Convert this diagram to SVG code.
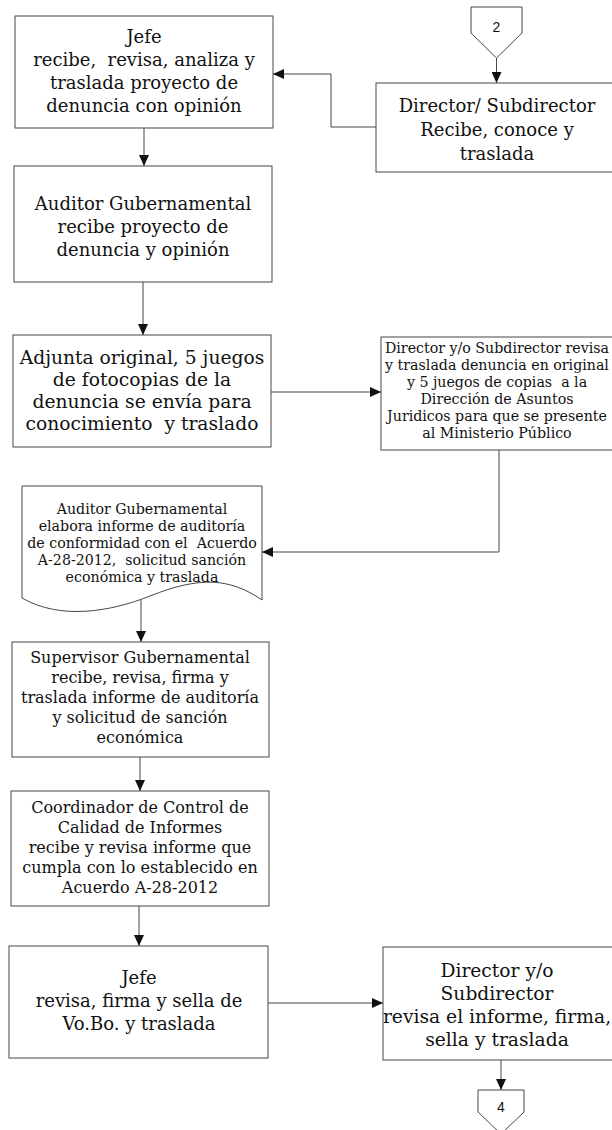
<svg xmlns="http://www.w3.org/2000/svg" width="612" height="1130" viewBox="0 0 612 1130">
  <style>
    .box { fill: #ffffff; stroke: #474747; stroke-width: 1; }
    .wire { fill: none; stroke: #474747; stroke-width: 1; }
    .t18 { font-family: "DejaVu Serif", "Liberation Serif", serif; font-size: 18px; fill: #111; text-anchor: middle; }
    .t19 { font-family: "DejaVu Serif", "Liberation Serif", serif; font-size: 18.7px; fill: #111; text-anchor: middle; }
    .t16 { font-family: "DejaVu Serif", "Liberation Serif", serif; font-size: 16px; fill: #111; text-anchor: middle; }
    .t14 { font-family: "DejaVu Serif", "Liberation Serif", serif; font-size: 14.2px; fill: #111; text-anchor: middle; }
    .conn { font-family: "Liberation Sans", Arial, sans-serif; font-size: 14px; fill: #111; text-anchor: middle; }
  </style>
  <defs>
    <marker id="arrow" markerUnits="userSpaceOnUse" markerWidth="11" markerHeight="10" refX="11" refY="5" orient="auto">
      <path d="M0,0 L11,5 L0,10 Z" fill="#111"/>
    </marker>
  </defs>
  <rect width="612" height="1130" fill="#ffffff"/>

  <!-- connectors -->
  <g id="connectors" class="wire" marker-end="url(#arrow)">
    <path d="M496.5,58 V83"/>
    <path d="M376,127 H331 V74 H273"/>
    <path d="M144,128 V166"/>
    <path d="M143,282 V335"/>
    <path d="M271,392 H381"/>
    <path d="M499,450 V552 H262"/>
    <path d="M141,600 V642"/>
    <path d="M140,757 V791"/>
    <path d="M139,906 V946"/>
    <path d="M268,1003 H383"/>
    <path d="M501,1060 V1090"/>
  </g>

  <!-- off-page connector 2 -->
  <g id="conn-2">
    <path class="box" d="M471,7 H522 V33 L496.5,58 L471,33 Z"/>
    <text class="conn" x="496.5" y="32">2</text>
  </g>

  <!-- Jefe receives the draft -->
  <g id="jefe-1">
    <rect class="box" x="15" y="16" width="258" height="112"/>
    <text class="t18" x="144" y="43">Jefe</text>
    <text class="t18" x="144" y="66" xml:space="preserve">recibe,  revisa, analiza y</text>
    <text class="t18" x="144" y="89">traslada proyecto de</text>
    <text class="t18" x="144" y="112">denuncia con opinión</text>
  </g>

  <!-- Director / Subdirector -->
  <g id="director-1">
    <rect class="box" x="376" y="83" width="240" height="89"/>
    <text class="t18" x="497" y="112">Director/ Subdirector</text>
    <text class="t18" x="497" y="136">Recibe, conoce y</text>
    <text class="t18" x="497" y="160">traslada</text>
  </g>

  <!-- Auditor receives draft -->
  <g id="auditor-1">
    <rect class="box" x="14" y="166" width="258" height="116"/>
    <text class="t18" x="143" y="210">Auditor Gubernamental</text>
    <text class="t18" x="143" y="233">recibe proyecto de</text>
    <text class="t18" x="143" y="256">denuncia y opinión</text>
  </g>

  <!-- Attach original and copies -->
  <g id="adjunta">
    <rect class="box" x="13" y="335" width="258" height="112"/>
    <text class="t19" x="142" y="364">Adjunta original, 5 juegos</text>
    <text class="t19" x="142" y="386">de fotocopias de la</text>
    <text class="t19" x="142" y="408">denuncia se envía para</text>
    <text class="t19" x="142" y="430" xml:space="preserve">conocimiento  y traslado</text>
  </g>

  <!-- Director forwards to legal affairs -->
  <g id="director-2">
    <rect class="box" x="381" y="337" width="235" height="113"/>
    <text class="t14" x="497" y="353">Director y/o Subdirector revisa</text>
    <text class="t14" x="497" y="370">y traslada denuncia en original</text>
    <text class="t14" x="497" y="387" xml:space="preserve">y 5 juegos de copias  a la</text>
    <text class="t14" x="497" y="404">Dirección de Asuntos</text>
    <text class="t14" x="497" y="421">Juridicos para que se presente</text>
    <text class="t14" x="497" y="438">al Ministerio Público</text>
  </g>

  <!-- Audit report document -->
  <g id="informe">
    <path class="box" d="M22,486 H262 V600 C230,578 200,576 150,596 C110,612 60,620 22,598 Z"/>
    <text class="t14" x="142" y="514">Auditor Gubernamental</text>
    <text class="t14" x="142" y="531">elabora informe de auditoría</text>
    <text class="t14" x="142" y="548" xml:space="preserve">de conformidad con el  Acuerdo</text>
    <text class="t14" x="142" y="565" xml:space="preserve">A-28-2012,  solicitud sanción</text>
    <text class="t14" x="142" y="582">económica y traslada</text>
  </g>

  <!-- Supervisor -->
  <g id="supervisor">
    <rect class="box" x="12" y="642" width="257" height="115"/>
    <text class="t16" x="140" y="663">Supervisor Gubernamental</text>
    <text class="t16" x="140" y="683">recibe, revisa, firma y</text>
    <text class="t16" x="140" y="703">traslada informe de auditoría</text>
    <text class="t16" x="140" y="723">y solicitud de sanción</text>
    <text class="t16" x="140" y="743">económica</text>
  </g>

  <!-- Quality control coordinator -->
  <g id="coordinador">
    <rect class="box" x="11" y="791" width="258" height="115"/>
    <text class="t16" x="140" y="813">Coordinador de Control de</text>
    <text class="t16" x="140" y="833">Calidad de Informes</text>
    <text class="t16" x="140" y="853">recibe y revisa informe que</text>
    <text class="t16" x="140" y="873">cumpla con lo establecido en</text>
    <text class="t16" x="140" y="893">Acuerdo A-28-2012</text>
  </g>

  <!-- Jefe signs -->
  <g id="jefe-2">
    <rect class="box" x="9" y="946" width="259" height="112"/>
    <text class="t18" x="139" y="984">Jefe</text>
    <text class="t18" x="139" y="1007">revisa, firma y sella de</text>
    <text class="t18" x="139" y="1030">Vo.Bo. y traslada</text>
  </g>

  <!-- Director signs and forwards -->
  <g id="director-3">
    <rect class="box" x="383" y="947" width="233" height="113"/>
    <text class="t19" x="497" y="977">Director y/o</text>
    <text class="t19" x="497" y="1000">Subdirector</text>
    <text class="t19" x="497" y="1023">revisa el informe, firma,</text>
    <text class="t19" x="497" y="1046">sella y traslada</text>
  </g>

  <!-- off-page connector 4 -->
  <g id="conn-4">
    <path class="box" d="M478,1090 H524 V1112 L501,1134 L478,1112 Z"/>
    <text class="conn" x="501" y="1112">4</text>
  </g>
</svg>
